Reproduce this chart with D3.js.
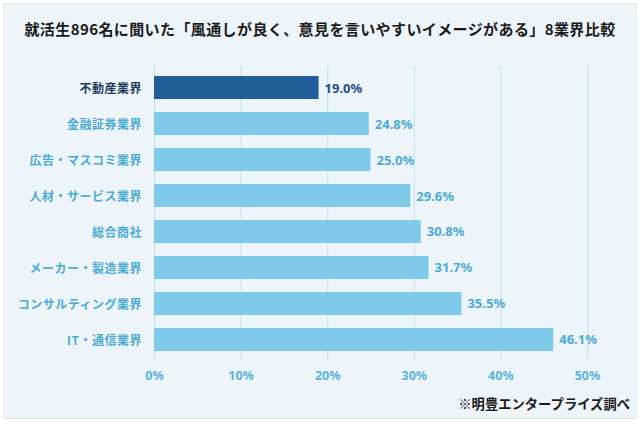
<!DOCTYPE html>
<html><head><meta charset="utf-8">
<script src="https://cdn.jsdelivr.net/npm/d3@7"></script>
<style>
html,body{margin:0;padding:0;background:#fff;}
svg{display:block;font-family:"Noto Sans CJK JP","Noto Sans",sans-serif;}
</style></head>
<body>
<svg id="chart" width="640" height="422"></svg>
<script>
const titleText = "就活生896名に聞いた「風通しが良く、意見を言いやすいイメージがある」8業界比較";
const sourceText = "※明豊エンタープライズ調べ";
const categories = ["不動産業界","金融証券業界","広告・マスコミ業界","人材・サービス業界","総合商社","メーカー・製造業界","コンサルティング業界","IT・通信業界"];
const values = [19.0,24.8,25.0,29.6,30.8,31.7,35.5,46.1];
const highlight = ["不動産業界"];
const ticks = [0,10,20,30,40,50];

const svg = d3.select("#chart");
svg.append("rect").attr("x",3.5).attr("y",3.5).attr("width",633).attr("height",415)
  .attr("fill","#EDF4FA").attr("stroke","#E2EAF1").attr("stroke-width",1);

const x = d3.scaleLinear().domain([0,50]).range([154,587]);
const y = d3.scaleBand().domain(categories).range([64,363]).paddingInner(0.36).paddingOuter(0.333);

svg.append("text").attr("x",320).attr("y",31).attr("text-anchor","middle")
  .attr("dominant-baseline","middle").attr("font-size",15).attr("font-weight",700)
  .attr("letter-spacing",0.4)
  .attr("fill","#1a1a1a").text(titleText);

// grid
const gAxis = svg.append("g").attr("transform","translate(0,359)");
const axis = d3.axisBottom(x).tickValues(ticks).tickFormat(d=>d+"%").tickSize(-293).tickPadding(12);
gAxis.call(axis);
gAxis.select(".domain").remove();
gAxis.selectAll(".tick line").attr("stroke","#C2E1EE").attr("stroke-width",1);
gAxis.selectAll(".tick text").attr("fill","#5BB3D8").attr("font-size",12.5).attr("font-weight",700)
  .attr("font-family","\"Noto Sans\",sans-serif");

// bars
svg.append("g").selectAll("rect").data(categories).join("rect")
  .attr("x",x(0)).attr("y",d=>y(d)).attr("height",y.bandwidth())
  .attr("width",(d,i)=>x(values[i])-x(0))
  .attr("fill",d=>highlight.includes(d)?"#215E99":"#7FC9E9");

// value labels
svg.append("g").selectAll("text").data(categories).join("text")
  .attr("x",(d,i)=>x(values[i])+6).attr("y",d=>y(d)+y.bandwidth()/2)
  .attr("dominant-baseline","central").attr("font-size",13).attr("font-weight",700)
  .attr("font-family","\"Noto Sans\",sans-serif")
  .attr("fill",d=>highlight.includes(d)?"#1F4F82":"#4CABD3")
  .text((d,i)=>values[i].toFixed(1)+"%");

// category labels
svg.append("g").selectAll("text").data(categories).join("text")
  .attr("x",142).attr("y",d=>y(d)+y.bandwidth()/2)
  .attr("text-anchor","end").attr("dominant-baseline","central")
  .attr("font-size",12).attr("font-weight",700).attr("letter-spacing",0.5)
  .attr("fill",d=>highlight.includes(d)?"#1D3D5E":"#4CABD3")
  .text(d=>d);

svg.append("text").attr("x",630).attr("y",405).attr("text-anchor","end")
  .attr("dominant-baseline","middle").attr("font-size",13.3).attr("font-weight",700)
  .attr("fill","#1a1a1a").text(sourceText);
</script>
</body></html>
